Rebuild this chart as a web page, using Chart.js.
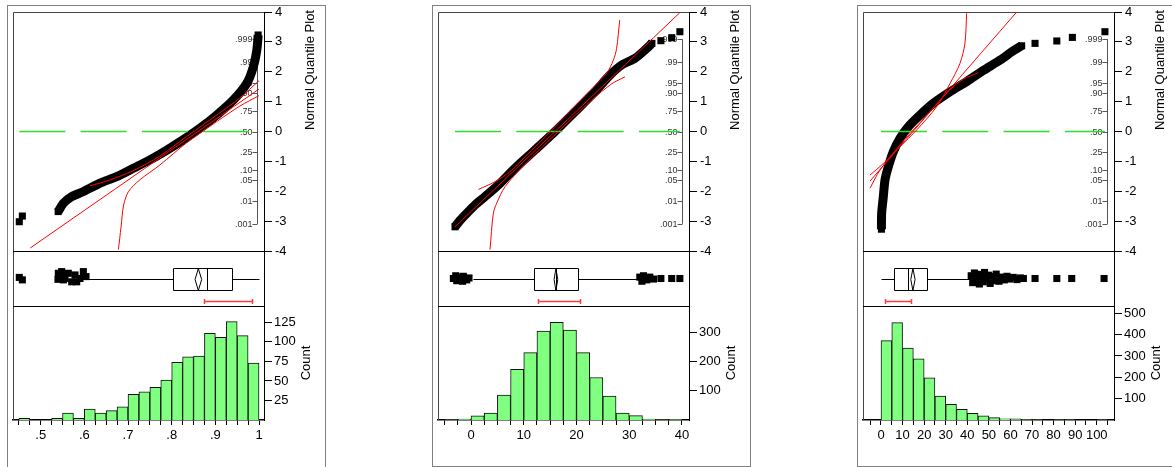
<!DOCTYPE html>
<html>
<head>
<meta charset="utf-8">
<title>Distributions</title>
<script src="https://cdn.jsdelivr.net/npm/chart.js@4.4.1/dist/chart.umd.min.js"></script>
<style>
  body { margin: 0; width: 1172px; height: 467px; overflow: hidden; position: relative; background: #fff; }
  .panel { position: absolute; top: 5px; width: 317px; height: 460px; border: 1px solid #808080; }
  .panel canvas { position: absolute; left: 0; top: 0; }
</style>
</head>
<body>
<div class="panel" style="left:7px;height:470px"><canvas id="c1" width="317" height="460"></canvas></div>
<div class="panel" style="left:432px"><canvas id="c2" width="317" height="460"></canvas></div>
<div class="panel" style="left:857px"><canvas id="c3" width="317" height="460"></canvas></div>
<script>
// normal quantile axis, shared by all three panels
const zTicks = [-4, -3, -2, -1, 0, 1, 2, 3, 4];
const probLabels = [".001", ".01", ".05", ".10", ".25", ".50", ".75", ".90", ".95", ".99", ".999"];
const probZ = [-3.09, -2.33, -1.64, -1.28, -0.67, 0, 0.67, 1.28, 1.64, 2.33, 3.09];

// ---- panel 1 ----
const p1Range = [0.4366, 1.0114];
const p1XTicks = [0.45, 0.475, 0.5, 0.525, 0.55, 0.575, 0.6, 0.625, 0.65, 0.675, 0.7, 0.725,
  0.75, 0.775, 0.8, 0.825, 0.85, 0.875, 0.9, 0.925, 0.95, 0.975, 1.0];
const p1XLabelAt = [0.5, 0.6, 0.7, 0.8, 0.9, 1];
const p1XLabels = [".5", ".6", ".7", ".8", ".9", "1"];
const p1BinStart = 0.45;
const p1BinWidth = 0.025;
const p1Counts = [2, 0, 0, 2, 9, 2, 14, 9, 12, 17, 33, 36, 42, 51, 74, 81, 82, 111, 106, 126, 108, 73];
const p1CountMax = 146;
const p1CountTicks = [25, 50, 75, 100, 125];
const p1Quantile = [[0.540, -2.68], [0.552, -2.40], [0.571, -2.18], [0.598, -2.01], [0.636, -1.73],
  [0.674, -1.51], [0.712, -1.23], [0.750, -0.95], [0.789, -0.62], [0.826, -0.28], [0.865, 0.11],
  [0.903, 0.55], [0.941, 1.05], [0.972, 1.61], [0.987, 2.17], [0.995, 2.73], [0.998, 3.23]];
const p1Extremes = [[0.451, -3.02], [0.458, -2.83], [0.540, -2.68], [0.998, 3.23]];
const p1Fit = [[0.476, -3.9], [1.0, 1.42]];
const p1BandLo = [[0.678, -3.95], [0.684, -3.2], [0.690, -2.46], [0.701, -2.01], [0.727, -1.62],
  [0.773, -1.12], [0.834, -0.38], [0.903, 0.33], [0.956, 0.85], [1.0, 1.2]];
const p1BandHi = [[0.613, -1.82], [0.659, -1.62], [0.712, -1.31], [0.773, -0.82], [0.834, -0.17],
  [0.903, 0.55], [0.956, 1.12], [1.0, 1.7]];
const p1DataRange = [0.451, 1.0];
const p1Box = [0.609, 0.804, 0.880, 0.939, 1.0];
const p1Mean = [0.8535, 0.861, 0.8687];
const p1Short = [0.874, 0.983];
const p1Outliers = [[0.451, 0.04], [0.458, -0.05], [0.5396, -0.03], [0.5404, 0.19], [0.548, 0.25],
  [0.5519, -0.05], [0.5557, 0.0], [0.5633, 0.19], [0.571, -0.12], [0.5786, 0.13], [0.5825, -0.12],
  [0.590, 0.0], [0.5977, 0.25], [0.6038, 0.07]];

// ---- panel 2 ----
const p2Range = [-6.26, 41.33];
const p2XTicks = [-5, -2.5, 0, 2.5, 5, 7.5, 10, 12.5, 15, 17.5, 20, 22.5, 25, 27.5, 30, 32.5, 35, 37.5, 40];
const p2XLabelAt = [0, 10, 20, 30, 40];
const p2XLabels = ["0", "10", "20", "30", "40"];
const p2BinStart = -5;
const p2BinWidth = 2.5;
const p2Counts = [1, 3, 14, 24, 85, 173, 230, 303, 333, 307, 230, 145, 82, 24, 15, 3, 1, 2];
const p2CountMax = 389;
const p2CountTicks = [100, 200, 300];
const p2Quantile = [[-3.03, -3.19], [-2.09, -2.98], [-0.82, -2.74], [0.76, -2.46], [2.65, -2.18],
  [5.18, -1.79], [8.34, -1.23], [12.13, -0.62], [15.92, 0.0], [19.7, 0.66], [23.5, 1.33],
  [26.35, 1.89], [28.6, 2.23], [31.1, 2.45], [33.0, 2.73], [34.3, 2.95]];
const p2Extremes = [[-3.03, -3.19], [34.3, 2.95], [36.0, 3.04], [38.05, 3.14], [39.6, 3.34]];
const p2Fit = [[-3.03, -3.19], [39.6, 3.98]];
const p2BandLo = [[3.6, -3.95], [4.23, -2.74], [4.87, -2.40], [6.45, -1.85], [10.24, -1.10],
  [16.55, 0.0], [22.9, 1.05], [26.7, 1.6], [29.2, 1.83]];
const p2BandHi = [[1.39, -1.94], [4.55, -1.68], [7.71, -1.30], [10.24, -0.85], [15.3, 0.05],
  [21.6, 1.2], [25.7, 1.95], [27.0, 2.39], [27.6, 2.78], [28.2, 3.73]];
const p2DataRange = [-3.03, 39.6];
const p2Box = [0.44, 12.0, 16.2, 20.2, 31.7];
const p2Mean = [15.75, 16.1, 16.45];
const p2Short = [12.76, 20.66];
const p2Outliers = [[-3.35, 0.0], [-2.9, 0.1], [-2.7, -0.08], [-2.09, 0.05], [-1.6, -0.1], [-1.45, 0.08],
  [-0.82, -0.05], [-0.38, 0.02], [32.0, 0.05], [32.4, -0.1], [32.7, 0.1], [33.3, -0.05], [33.9, 0.05],
  [34.6, -0.02], [36.0, 0.0], [38.05, 0.0], [39.6, 0.0]];

// ---- panel 3 ----
const p3Range = [-8.34, 108.0];
const p3XTicks = [-5, 0, 5, 10, 15, 20, 25, 30, 35, 40, 45, 50, 55, 60, 65, 70, 75, 80, 85, 90, 95, 100, 105];
const p3XLabelAt = [0, 10, 20, 30, 40, 50, 60, 70, 80, 90, 100];
const p3XLabels = ["0", "10", "20", "30", "40", "50", "60", "70", "80", "90", "100"];
const p3BinStart = 0;
const p3BinWidth = 5;
const p3Counts = [372, 456, 337, 287, 198, 112, 73, 50, 31, 19, 11, 6, 5, 2, 1, 0, 1, 1, 0, 0, 1];
const p3CountMax = 534;
const p3CountTicks = [100, 200, 300, 400, 500];
const p3Quantile = [[0.2, -3.27], [0.3, -2.74], [1.08, -2.18], [1.85, -1.62], [3.4, -1.18], [5.7, -0.68],
  [8.8, -0.23], [12.7, 0.16], [18.1, 0.55], [24.2, 0.94], [32.0, 1.33], [39.7, 1.67], [47.4, 2.04],
  [55.2, 2.39], [61.3, 2.70], [65.2, 2.87]];
const p3Extremes = [[0.2, -3.27], [65.2, 2.87], [71.4, 2.95], [81.5, 3.03], [88.7, 3.15], [103.8, 3.34]];
const p3Fit = [[-5.1, -1.66], [62.9, 4.0]];
const p3BandLo = [[-5.1, -1.90], [-0.46, -1.29], [8.8, -0.45], [19.6, 0.42], [32.0, 1.40], [38.2, 1.75], [45.1, 1.97]];
const p3BandHi = [[-5.1, -1.46], [1.08, -1.07], [8.8, -0.51], [16.5, 0.05], [25.8, 0.83], [32.0, 1.61],
  [36.6, 2.28], [38.9, 2.95], [39.7, 3.96]];
const p3DataRange = [0.0, 103.8];
const p3Box = [0.0, 6.03, 12.4, 21.2, 41.6];
const p3Mean = [13.8, 14.8, 15.8];
const p3Short = [2.0, 13.9];
const p3Outliers = [[41.8, 0.1], [42.5, -0.15], [43.3, 0.2], [44.1, -0.05], [44.9, 0.15], [45.6, -0.2],
  [46.5, 0.05], [47.4, -0.12], [48.0, 0.22], [48.9, -0.02], [49.8, 0.12], [50.6, -0.18], [51.5, 0.08],
  [52.6, -0.08], [53.4, 0.16], [54.7, -0.1], [55.9, 0.05], [57.2, -0.05], [58.4, 0.08], [59.7, -0.02],
  [61.3, 0.04], [63.0, -0.04], [64.6, 0.02], [66.0, 0.0], [71.4, 0.0], [81.5, 0.0], [88.4, 0.0], [103.4, 0.0]];

Chart.defaults.font.family = '"Liberation Sans", Arial, sans-serif';
Chart.defaults.font.size = 13;
Chart.defaults.color = "#000";

const pts = a => a.map(([x, y]) => ({x, y}));
const FONT = '"Liberation Sans", Arial, sans-serif';

function makePanel(id, d) {
  const bars = d.counts.map((c, i) => ({x: d.binStart + (i + 0.5) * d.binWidth, y: c}));
  const redLine = (data) => ({
    type: "line", data: pts(data), yAxisID: "yQ", borderColor: "#ff0000", borderWidth: 1,
    pointRadius: 0, pointHoverRadius: 0, tension: 0.3, order: 1
  });
  const squares = (data, axis) => ({
    type: "scatter", data: pts(data), yAxisID: axis, pointStyle: "rect", pointRadius: 5,
    backgroundColor: "#000", borderColor: "#000", borderWidth: 0, order: 3
  });

  const framePlugin = {
    id: "frame",
    beforeDatasetsDraw(chart) {
      const {ctx, chartArea: a, scales} = chart;
      const yQ = scales.yQ, yB = scales.yBox;
      ctx.save();
      ctx.lineWidth = 1;
      ctx.strokeStyle = "#444";
      const L = Math.round(a.left) + 0.5, T = Math.round(a.top) + 0.5;
      ctx.beginPath();
      ctx.moveTo(L, a.bottom);
      ctx.lineTo(L, T);
      ctx.lineTo(a.right, T);
      ctx.stroke();
      ctx.strokeStyle = "#000";
      [yB.top, yB.bottom].forEach(y => {
        const yy = Math.round(y) + 0.5;
        ctx.beginPath();
        ctx.moveTo(a.left, yy);
        ctx.lineTo(a.right, yy);
        ctx.stroke();
      });
      // probability scale inside the quantile plot
      const px = Math.round(a.right - 7) + 0.5;
      ctx.strokeStyle = "#555";
      ctx.beginPath();
      ctx.moveTo(px, yQ.getPixelForValue(probZ[0]));
      ctx.lineTo(px, yQ.getPixelForValue(probZ[probZ.length - 1]));
      ctx.stroke();
      ctx.font = "9px " + FONT;
      ctx.fillStyle = "#333";
      ctx.textAlign = "right";
      ctx.textBaseline = "middle";
      probZ.forEach((z, i) => {
        const y = Math.round(yQ.getPixelForValue(z)) + 0.5;
        ctx.beginPath();
        ctx.moveTo(px - 5, y);
        ctx.lineTo(px, y);
        ctx.stroke();
        ctx.fillText(probLabels[i], px - 5, y);
      });
      ctx.restore();
    },
    afterDatasetsDraw(chart) {
      const {ctx, scales} = chart;
      const x = scales.x;
      const cy = Math.round(scales.yBox.getPixelForValue(0)) + 0.5;
      const h = 11;
      const [lo, q1, med, q3, hi] = d.box;
      const X = v => Math.round(x.getPixelForValue(v)) + 0.5;
      ctx.save();
      ctx.strokeStyle = "#000";
      ctx.lineWidth = 1;
      ctx.beginPath();
      ctx.moveTo(X(lo), cy); ctx.lineTo(X(q1), cy);
      ctx.moveTo(X(q3), cy); ctx.lineTo(X(hi), cy);
      ctx.rect(X(q1), cy - h, X(q3) - X(q1), 2 * h);
      ctx.moveTo(X(med), cy - h); ctx.lineTo(X(med), cy + h);
      ctx.stroke();
      // mean diamond
      const [mLo, m, mHi] = d.mean;
      ctx.beginPath();
      ctx.moveTo(x.getPixelForValue(mLo), cy);
      ctx.lineTo(x.getPixelForValue(m), cy - h);
      ctx.lineTo(x.getPixelForValue(mHi), cy);
      ctx.lineTo(x.getPixelForValue(m), cy + h);
      ctx.closePath();
      ctx.stroke();
      // shortest half bracket
      const sy = cy + 22;
      ctx.strokeStyle = "#ff3b3b";
      ctx.lineWidth = 1.5;
      ctx.beginPath();
      ctx.moveTo(X(d.short[0]), sy); ctx.lineTo(X(d.short[1]), sy);
      ctx.moveTo(X(d.short[0]), sy - 2.5); ctx.lineTo(X(d.short[0]), sy + 2.5);
      ctx.moveTo(X(d.short[1]), sy - 2.5); ctx.lineTo(X(d.short[1]), sy + 2.5);
      ctx.stroke();
      ctx.restore();
    },
    afterDraw(chart) {
      const {ctx, chartArea: a, scales} = chart;
      ctx.save();
      ctx.font = "13px " + FONT;
      ctx.fillStyle = "#000";
      ctx.textAlign = "center";
      ctx.textBaseline = "middle";
      ctx.translate(a.right + 46, a.top + 58);
      ctx.rotate(-Math.PI / 2);
      ctx.fillText("Normal Quantile Plot", 0, 0);
      ctx.restore();
      ctx.save();
      ctx.font = "13px " + FONT;
      ctx.fillStyle = "#000";
      ctx.textAlign = "center";
      ctx.textBaseline = "middle";
      ctx.translate(a.right + 42, (scales.yCount.top + scales.yCount.bottom) / 2);
      ctx.rotate(-Math.PI / 2);
      ctx.fillText("Count", 0, 0);
      ctx.restore();
    }
  };

  const rightAxis = (extra) => Object.assign({
    type: "linear", position: "right", stack: "p",
    grid: {display: true, drawOnChartArea: false, tickLength: 8, color: "#000"},
    border: {display: true, color: "#000", width: 1},
    ticks: {autoSkip: false, padding: 2, color: "#000", font: {size: 13}},
    afterFit: s => { s.width = 61; s.paddingTop = 0; s.paddingBottom = 0; }
  }, extra);

  return new Chart(document.getElementById(id), {
    type: "scatter",
    data: {
      datasets: [
        redLine(d.fit),
        redLine(d.bandLo),
        redLine(d.bandHi),
        {type: "line", data: pts([[d.dataRange[0], 0], [d.dataRange[1], 0]]), yAxisID: "yQ",
          borderColor: "#2edc2e", borderWidth: 1.5, borderDash: [46, 15.3], pointRadius: 0,
          pointHoverRadius: 0, order: 2},
        {type: "line", data: pts(d.quantile), yAxisID: "yQ", borderColor: "#000", borderWidth: 9,
          pointRadius: 0, pointHoverRadius: 0, tension: 0.25, borderJoinStyle: "round",
          borderCapStyle: "butt", order: 3},
        squares(d.extremes, "yQ"),
        squares(d.outliers, "yBox"),
        {type: "bar", data: bars, yAxisID: "yCount", backgroundColor: "#80ff80", borderColor: "#111",
          borderWidth: 1, barPercentage: 1, categoryPercentage: 1, order: 5}
      ]
    },
    options: {
      responsive: false,
      animation: false,
      events: [],
      layout: {padding: {left: 5, top: 6, right: 0, bottom: 0}},
      plugins: {legend: {display: false}, tooltip: {enabled: false}},
      scales: {
        x: {
          type: "linear", position: "bottom", min: d.range[0], max: d.range[1], offset: false,
          afterBuildTicks: s => { s.ticks = d.xTicks.map(v => ({value: v})); },
          afterFit: s => { s.height = 46; s.paddingLeft = 0; s.paddingRight = 0; },
          ticks: {
            autoSkip: false, maxRotation: 0, minRotation: 0, padding: 3, color: "#000", font: {size: 13},
            callback: v => {
              const i = d.xLabelAt.findIndex(t => Math.abs(t - v) < 1e-9);
              return i < 0 ? "" : d.xLabels[i];
            }
          },
          grid: {display: true, drawOnChartArea: false, offset: false, tickLength: 5, color: "#000"},
          border: {display: true, color: "#000", width: 1.5}
        },
        yQ: rightAxis({
          stackWeight: 239, weight: 0, min: -4, max: 4,
          afterBuildTicks: s => { s.ticks = zTicks.map(v => ({value: v})); },
          ticks: {autoSkip: false, padding: 3, color: "#000", font: {size: 13}, callback: v => String(v)}
        }),
        yBox: rightAxis({
          stackWeight: 55, weight: 1, min: -1, max: 1,
          ticks: {display: false},
          grid: {display: false}
        }),
        yCount: rightAxis({
          stackWeight: 114, weight: 2, min: 0, max: d.countMax,
          afterBuildTicks: s => { s.ticks = d.countTicks.map(v => ({value: v})); }
        })
      }
    },
    plugins: [framePlugin]
  });
}

makePanel("c1", {
  range: p1Range, xTicks: p1XTicks, xLabelAt: p1XLabelAt, xLabels: p1XLabels,
  binStart: p1BinStart, binWidth: p1BinWidth, counts: p1Counts, countMax: p1CountMax, countTicks: p1CountTicks,
  quantile: p1Quantile, extremes: p1Extremes, fit: p1Fit, bandLo: p1BandLo, bandHi: p1BandHi,
  dataRange: p1DataRange, box: p1Box, mean: p1Mean, short: p1Short, outliers: p1Outliers
});
makePanel("c2", {
  range: p2Range, xTicks: p2XTicks, xLabelAt: p2XLabelAt, xLabels: p2XLabels,
  binStart: p2BinStart, binWidth: p2BinWidth, counts: p2Counts, countMax: p2CountMax, countTicks: p2CountTicks,
  quantile: p2Quantile, extremes: p2Extremes, fit: p2Fit, bandLo: p2BandLo, bandHi: p2BandHi,
  dataRange: p2DataRange, box: p2Box, mean: p2Mean, short: p2Short, outliers: p2Outliers
});
makePanel("c3", {
  range: p3Range, xTicks: p3XTicks, xLabelAt: p3XLabelAt, xLabels: p3XLabels,
  binStart: p3BinStart, binWidth: p3BinWidth, counts: p3Counts, countMax: p3CountMax, countTicks: p3CountTicks,
  quantile: p3Quantile, extremes: p3Extremes, fit: p3Fit, bandLo: p3BandLo, bandHi: p3BandHi,
  dataRange: p3DataRange, box: p3Box, mean: p3Mean, short: p3Short, outliers: p3Outliers
});
</script>
</body>
</html>
